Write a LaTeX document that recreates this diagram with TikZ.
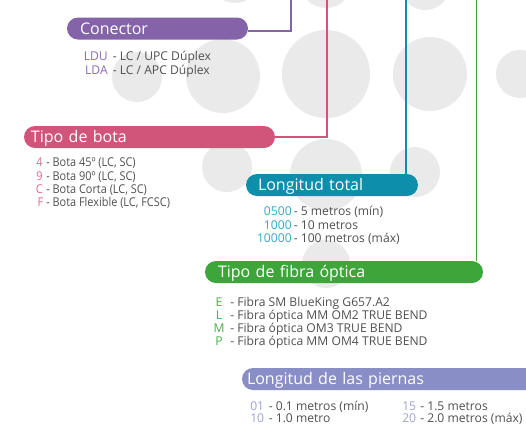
\documentclass[tikz,border=0pt]{standalone}
\usepackage{fontspec}
\setmainfont{Open Sans}
\definecolor{cBg}{HTML}{EAEAEA}
\definecolor{cPurple}{HTML}{8463A8}
\definecolor{cPink}{HTML}{D1547B}
\definecolor{cTeal}{HTML}{0B8FAB}
\definecolor{cGreen}{HTML}{3DA53A}
\definecolor{cLav}{HTML}{8A8EC6}
\definecolor{kPurple}{HTML}{8C6CB6}
\definecolor{kPink}{HTML}{E4668F}
\definecolor{kTeal}{HTML}{36A8CB}
\definecolor{kGreen}{HTML}{4CAE48}
\definecolor{kLav}{HTML}{9EA3D8}
\definecolor{cText}{HTML}{505050}
\tikzset{
  banner/.style={rounded corners=8.25pt, minimum height=16.5pt, inner ysep=0pt,
    text=white, align=left, text height=8.6pt, text depth=0pt,
    font=\fontsize{12}{14}\selectfont},
  conn/.style={line width=1.4pt},
  itemtxt/.style={anchor=base west, inner sep=0pt, text=cText, font=\fontsize{9.1}{11}\selectfont},
  itemcode/.style={anchor=base east, inner sep=0pt, font=\fontsize{9.1}{11}\selectfont},
  botatxt/.style={itemtxt, font=\fontsize{9.1}{11}\selectfont\addfontfeature{FakeStretch=0.9}},
  botacode/.style={itemcode, font=\fontsize{9.1}{11}\selectfont\addfontfeature{FakeStretch=0.9}}
}
\begin{document}
\begin{tikzpicture}[x=0.75pt,y=-0.75pt]
\clip (0,0) rectangle (526,426);
\fill[white] (0,0) rectangle (526,426);
% background circles
\foreach \cx/\cy/\r in {235/-22/25, 326/-18/26, 425/-15/25,
    137/77/25, 223/76/37, 326/74/44, 430/74/37, 520/74/24,
    227/167/25, 326/175/36, 415/172/25, 326/264/24}
  \fill[cBg] (\cx,\cy) circle[radius=\r];

% banners
\node[banner, fill=cPurple, text width=116.25pt, inner xsep=9.75pt] (con) at (157.5,28.5) {Conector};
\node[banner, fill=cPink, text width=177.75pt, inner xsep=5.25pt] (bota) at (149.5,137) {Tipo de bota};
\node[banner, fill=cTeal, text width=111pt, inner xsep=9pt] (lt) at (332,185) {Longitud total};
\node[banner, fill=cGreen, text width=189pt, inner xsep=9.75pt] (fib) at (344,272) {Tipo de fibra óptica};
\node[banner, fill=cLav, text width=231pt, inner xsep=3.75pt] (pier) at (401,379) {Longitud de las piernas};

% connectors
\coordinate (conTop) at (291,-3);
\coordinate (botaTop) at (327,-3);
\coordinate (ltTop) at (406,-3);
\coordinate (fibTop) at (476.5,-3);
\draw[conn, cPurple] ([yshift=-2pt]con.east) -| (conTop);
\draw[conn, cPink] (bota.east) -| (botaTop);
\draw[conn, cTeal] (lt.north -| ltTop) -- (ltTop);
\draw[conn, cGreen] (fib.north -| fibTop) -- (fibTop);

% Conector items
\node[itemcode, text=kPurple] (c1) at (108,60) {LDU};
\node[itemtxt] (t1) at (112.5,60) {- LC / UPC Dúplex};
\node[itemcode, text=kPurple] (c2) at (108,74) {LDA};
\node[itemtxt] (t2) at (112.5,74) {- LC / APC Dúplex};

% Tipo de bota items
\node[botacode, text=kPink] (b1) at (43,166.5) {4};
\node[botatxt] (bt1) at (46,166.5) {- Bota 45º (LC, SC)};
\node[botacode, text=kPink] (b2) at (43,180) {9};
\node[botatxt] (bt2) at (46,180) {- Bota 90º (LC, SC)};
\node[botacode, text=kPink] (b3) at (43,193.5) {C};
\node[botatxt] (bt3) at (46,193.5) {- Bota Corta (LC, SC)};
\node[botacode, text=kPink] (b4) at (43.5,206.5) {F};
\node[botatxt] (bt4) at (46,206.5) {- Bota Flexible (LC, FCSC)};

% Longitud total items
\node[itemcode, text=kTeal] (l1) at (292,215.5) {0500};
\node[itemtxt] (lt1) at (293.5,215.5) {- 5 metros (mín)};
\node[itemcode, text=kTeal] (l2) at (292,229.5) {1000};
\node[itemtxt] (lt2) at (293.5,229.5) {- 10 metros};
\node[itemcode, text=kTeal] (l3) at (292,242.5) {10000};
\node[itemtxt] (lt3) at (293.5,242.5) {- 100 metros (máx)};

% Fibra items
\node[itemcode, anchor=base, text=kGreen] (f1) at (219,306) {E};
\node[itemtxt] (ft1) at (230,306) {- Fibra SM BlueKing G657.A2};
\node[itemcode, anchor=base, text=kGreen] (f2) at (219,319) {L};
\node[itemtxt] (ft2) at (230,319) {- Fibra óptica MM OM2 TRUE BEND};
\node[itemcode, anchor=base, text=kGreen] (f3) at (219,332.5) {M};
\node[itemtxt] (ft3) at (230,332.5) {- Fibra óptica OM3 TRUE BEND};
\node[itemcode, anchor=base, text=kGreen] (f4) at (219,345.5) {P};
\node[itemtxt] (ft4) at (230,345.5) {- Fibra óptica MM OM4 TRUE BEND};

% Piernas items
\node[itemcode, anchor=base west, text=kLav] (p1) at (250,410) {01};
\node[itemtxt] (pt1) at (268.5,410) {- 0.1 metros (mín)};
\node[itemcode, anchor=base west, text=kLav] (p2) at (250,422.5) {10};
\node[itemtxt] (pt2) at (268.5,422.5) {- 1.0 metro};
\node[itemcode, anchor=base west, text=kLav] (p3) at (402,410) {15};
\node[itemtxt] (pt3) at (420,410) {- 1.5 metros};
\node[itemcode, anchor=base west, text=kLav] (p4) at (402,422.5) {20};
\node[itemtxt] (pt4) at (420,422.5) {- 2.0 metros (máx)};
\end{tikzpicture}
\end{document}
